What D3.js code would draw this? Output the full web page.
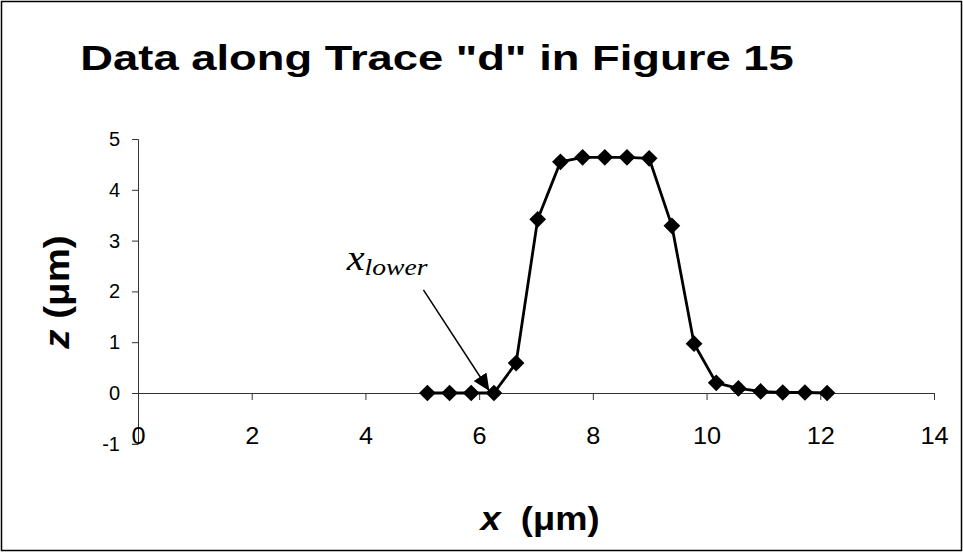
<!DOCTYPE html>
<html>
<head>
<meta charset="utf-8">
<script src="https://cdn.jsdelivr.net/npm/d3@7"></script>
<style>
  html, body { margin: 0; padding: 0; background: #fff; }
  svg { display: block; }
</style>
</head>
<body>
<svg id="chart" width="963" height="552"></svg>
<script>
// Trace "d" profile: lateral position x (µm) and height z (µm)
const xValues = [5.09, 5.48, 5.86, 6.26, 6.65, 7.03, 7.43, 7.82, 8.21, 8.6, 8.99, 9.39, 9.78, 10.17, 10.56, 10.95, 11.34, 11.73, 12.12];
const zValues = [0, 0, 0, 0, 0.59, 3.42, 4.55, 4.64, 4.64, 4.64, 4.62, 3.29, 0.97, 0.2, 0.09, 0.03, 0.01, 0.01, 0];

const xTicks = [0, 2, 4, 6, 8, 10, 12, 14];
const yTicks = [-1, 0, 1, 2, 3, 4, 5];

// Callout pointing at the lower edge of the step
const calloutText = { base: "x", sub: "lower", x: 3.67, z: 2.42 };
const calloutArrow = { x1: 5.02, z1: 2.03, x2: 6.18, z2: 0.04 };

const svg = d3.select("#chart");
const W = 963, H = 552;
const SANS = "Liberation Sans, Arial, sans-serif";

// outer frame
svg.append("rect")
  .attr("x", 1.5).attr("y", 1.5)
  .attr("width", W - 3).attr("height", H - 3)
  .attr("fill", "#fff").attr("stroke", "#000").attr("stroke-width", 1.5);

const x = d3.scaleLinear().domain([0, 14]).range([138, 934]);
const y = d3.scaleLinear().domain([-1, 5]).range([443.8, 139]);

// title (set a little wide, like the rest of the lettering)
svg.append("text")
  .attr("transform", "translate(437,70) scale(1.26,1)")
  .attr("text-anchor", "middle")
  .attr("font-family", SANS)
  .attr("font-weight", "bold")
  .attr("font-size", 36)
  .text('Data along Trace "d" in Figure 15');

// y axis (at x = 0)
const yAxis = svg.append("g")
  .attr("transform", `translate(${x(0)},0)`)
  .call(d3.axisLeft(y).tickValues(yTicks).tickSize(6).tickPadding(12).tickFormat(d => String(d)));
yAxis.select(".domain").attr("stroke", "#333").attr("stroke-width", 1);
yAxis.selectAll(".tick line").attr("stroke", "#333");
yAxis.selectAll(".tick text")
  .attr("font-family", SANS)
  .attr("font-size", 20).attr("fill", "#000");

// x axis (at z = 0), labels hang below the plot bottom
const xAxis = svg.append("g")
  .attr("transform", `translate(0,${y(0)})`)
  .call(d3.axisBottom(x).tickValues(xTicks).tickSize(7).tickPadding(0).tickFormat(d => String(d)));
xAxis.select(".domain").attr("stroke", "#333").attr("stroke-width", 1);
xAxis.selectAll(".tick line").attr("stroke", "#333");
xAxis.selectAll(".tick text")
  .attr("font-family", SANS)
  .attr("font-size", 23).attr("fill", "#000")
  .attr("y", null).attr("dy", null)
  .attr("transform", "translate(0,51) scale(1.1,1)");

// profile line
const line = d3.line().x((d, i) => x(xValues[i])).y(d => y(d));
svg.append("path")
  .datum(zValues)
  .attr("d", line)
  .attr("fill", "none")
  .attr("stroke", "#000")
  .attr("stroke-width", 2.8)
  .attr("stroke-linejoin", "round");

// diamond markers
const diamond = d3.symbol().type(d3.symbolSquare).size(140);
svg.append("g").selectAll("path")
  .data(zValues)
  .join("path")
  .attr("d", diamond)
  .attr("transform", (d, i) => `translate(${x(xValues[i])},${y(d)}) rotate(45)`)
  .attr("fill", "#000");

// callout arrow
svg.append("defs").append("marker")
  .attr("id", "head")
  .attr("viewBox", "0 0 10 10")
  .attr("refX", 10).attr("refY", 5)
  .attr("markerWidth", 17).attr("markerHeight", 17)
  .attr("markerUnits", "userSpaceOnUse")
  .attr("orient", "auto")
  .append("path").attr("d", "M0,0.5 L10,5 L0,9.5 Z").attr("fill", "#000");
svg.append("line")
  .attr("x1", x(calloutArrow.x1)).attr("y1", y(calloutArrow.z1))
  .attr("x2", x(calloutArrow.x2)).attr("y2", y(calloutArrow.z2))
  .attr("stroke", "#000").attr("stroke-width", 1.5)
  .attr("marker-end", "url(#head)");

const callout = svg.append("text")
  .attr("transform", `translate(${x(calloutText.x)},${y(calloutText.z)}) scale(1.15,1)`)
  .attr("font-family", "Liberation Serif, Times New Roman, serif")
  .attr("font-style", "italic");
callout.append("tspan").attr("font-size", 35).text(calloutText.base);
callout.append("tspan").attr("font-size", 24).attr("dy", 5).text(calloutText.sub);

// axis titles
const xTitle = svg.append("text")
  .attr("transform", "translate(540,530) scale(1.1,1)")
  .attr("text-anchor", "middle")
  .attr("font-family", SANS)
  .attr("font-weight", "bold").attr("font-size", 33);
xTitle.append("tspan").attr("font-style", "italic").text("x");
xTitle.append("tspan").text("\u00a0\u00a0(\u03bcm)");

const yTitle = svg.append("text")
  .attr("transform", "translate(69,292) rotate(-90) scale(1.1,1)")
  .attr("text-anchor", "middle")
  .attr("font-family", SANS)
  .attr("font-weight", "bold").attr("font-size", 35);
yTitle.append("tspan").attr("font-style", "italic").text("z");
yTitle.append("tspan").text("\u00a0(\u03bcm)");
</script>
</body>
</html>
